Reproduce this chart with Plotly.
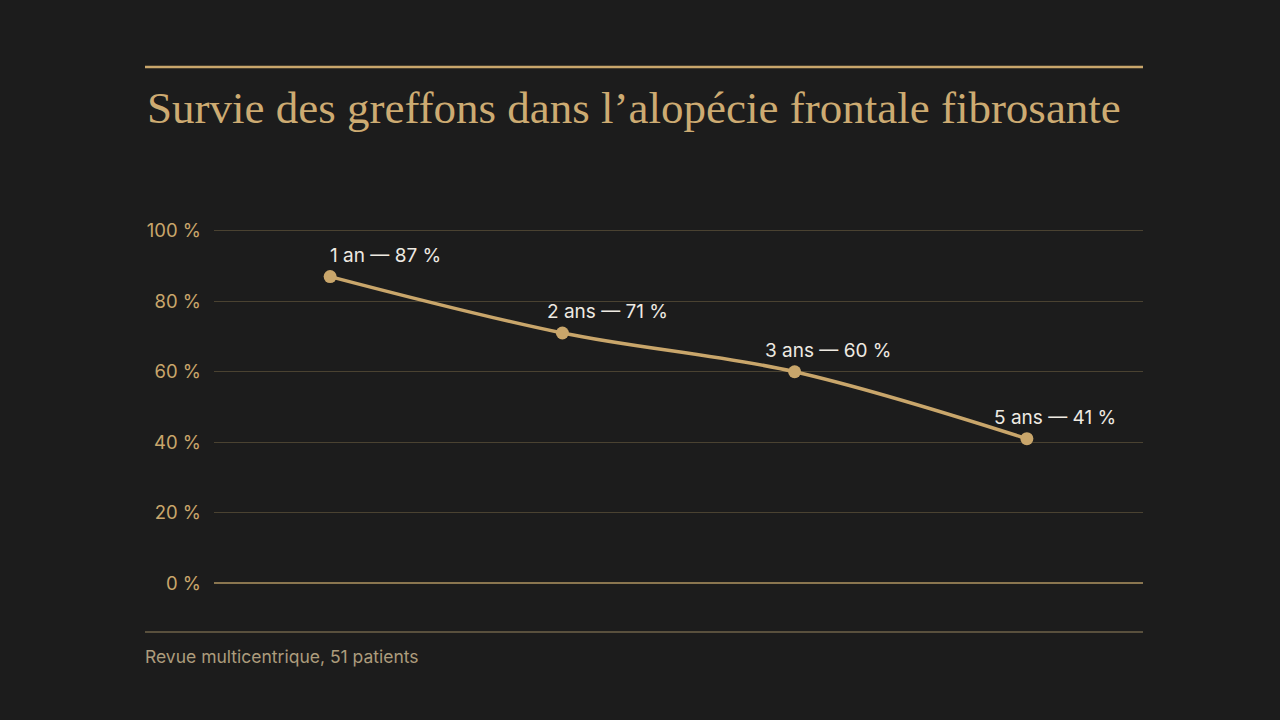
import plotly.graph_objects as go

categories = ["1 an", "2 ans", "3 ans", "5 ans"]
survival = [87, 71, 60, 41]
tick_values = [0, 20, 40, 60, 80, 100]
tick_labels = ["0 %", "20 %", "40 %", "60 %", "80 %", "100 %"]
title_text = "Survie des greffons dans l’alopécie frontale fibrosante"
source_text = "Revue multicentrique, 51 patients"

BG = "#1c1c1c"
GOLD = "#c9a66b"
GRID = "#4a4231"

fig = go.Figure()
fig.add_trace(go.Scatter(
    x=categories, y=survival, mode="lines+markers",
    line=dict(color=GOLD, width=3.5, shape="spline", smoothing=1.0),
    marker=dict(size=13, color=GOLD),
    hoverinfo="skip", showlegend=False,
))

label_xshift = [-2, -17, -32, -35]
for c, v, xs in zip(categories, survival, label_xshift):
    fig.add_annotation(
        x=c, y=v, xref="x", yref="y",
        text=f"{c} — {v} %", showarrow=False,
        xanchor="left", yanchor="middle", xshift=xs, yshift=21,
        font=dict(family="Inter, sans-serif", size=19, color="#eeeae2"),
    )

W, H = 1280, 720
L, R, T, B = 214, 1280 - 1143, 229, 720 - 585

def px(x):
    return (x - L) / (W - L - R)

def py(y):
    return (H - B - y) / (H - T - B)

fig.add_annotation(
    x=px(145), y=py(108), xref="paper", yref="paper", text=title_text,
    showarrow=False, xanchor="left", yanchor="middle",
    font=dict(family="Liberation Serif, serif", size=45, color="#cdab72"),
)
fig.add_annotation(
    x=px(143), y=py(656), xref="paper", yref="paper", text=source_text,
    showarrow=False, xanchor="left", yanchor="middle",
    font=dict(family="Inter, sans-serif", size=17.5, color="#ad9c7c"),
)
fig.add_shape(type="line", xref="paper", yref="paper",
              x0=px(145), x1=px(1143), y0=py(67), y1=py(67),
              line=dict(color=GOLD, width=2.5))
fig.add_shape(type="line", xref="paper", yref="paper",
              x0=px(145), x1=px(1143), y0=py(632), y1=py(632),
              line=dict(color="#6e6248", width=1.5))

fig.update_layout(
    width=W, height=H, paper_bgcolor=BG, plot_bgcolor=BG,
    margin=dict(l=L, r=R, t=T, b=B, pad=0),
    xaxis=dict(showgrid=False, showticklabels=False, zeroline=False,
               showline=False, ticks="", range=[-0.5, 3.5]),
    yaxis=dict(range=[-0.5, 100.5], tickvals=tick_values, ticktext=tick_labels,
               showgrid=True, gridcolor=GRID, gridwidth=1,
               zeroline=True, zerolinecolor="#8a7650", zerolinewidth=1.5,
               showline=False, ticks="", ticklabelstandoff=12,
               tickfont=dict(family="Inter, sans-serif", size=18.5, color=GOLD)),
)

fig.write_html(
    "out.html",
    config={"displayModeBar": False},
    post_script="document.body.style.margin='0';document.body.style.background='#1c1c1c';",
)
